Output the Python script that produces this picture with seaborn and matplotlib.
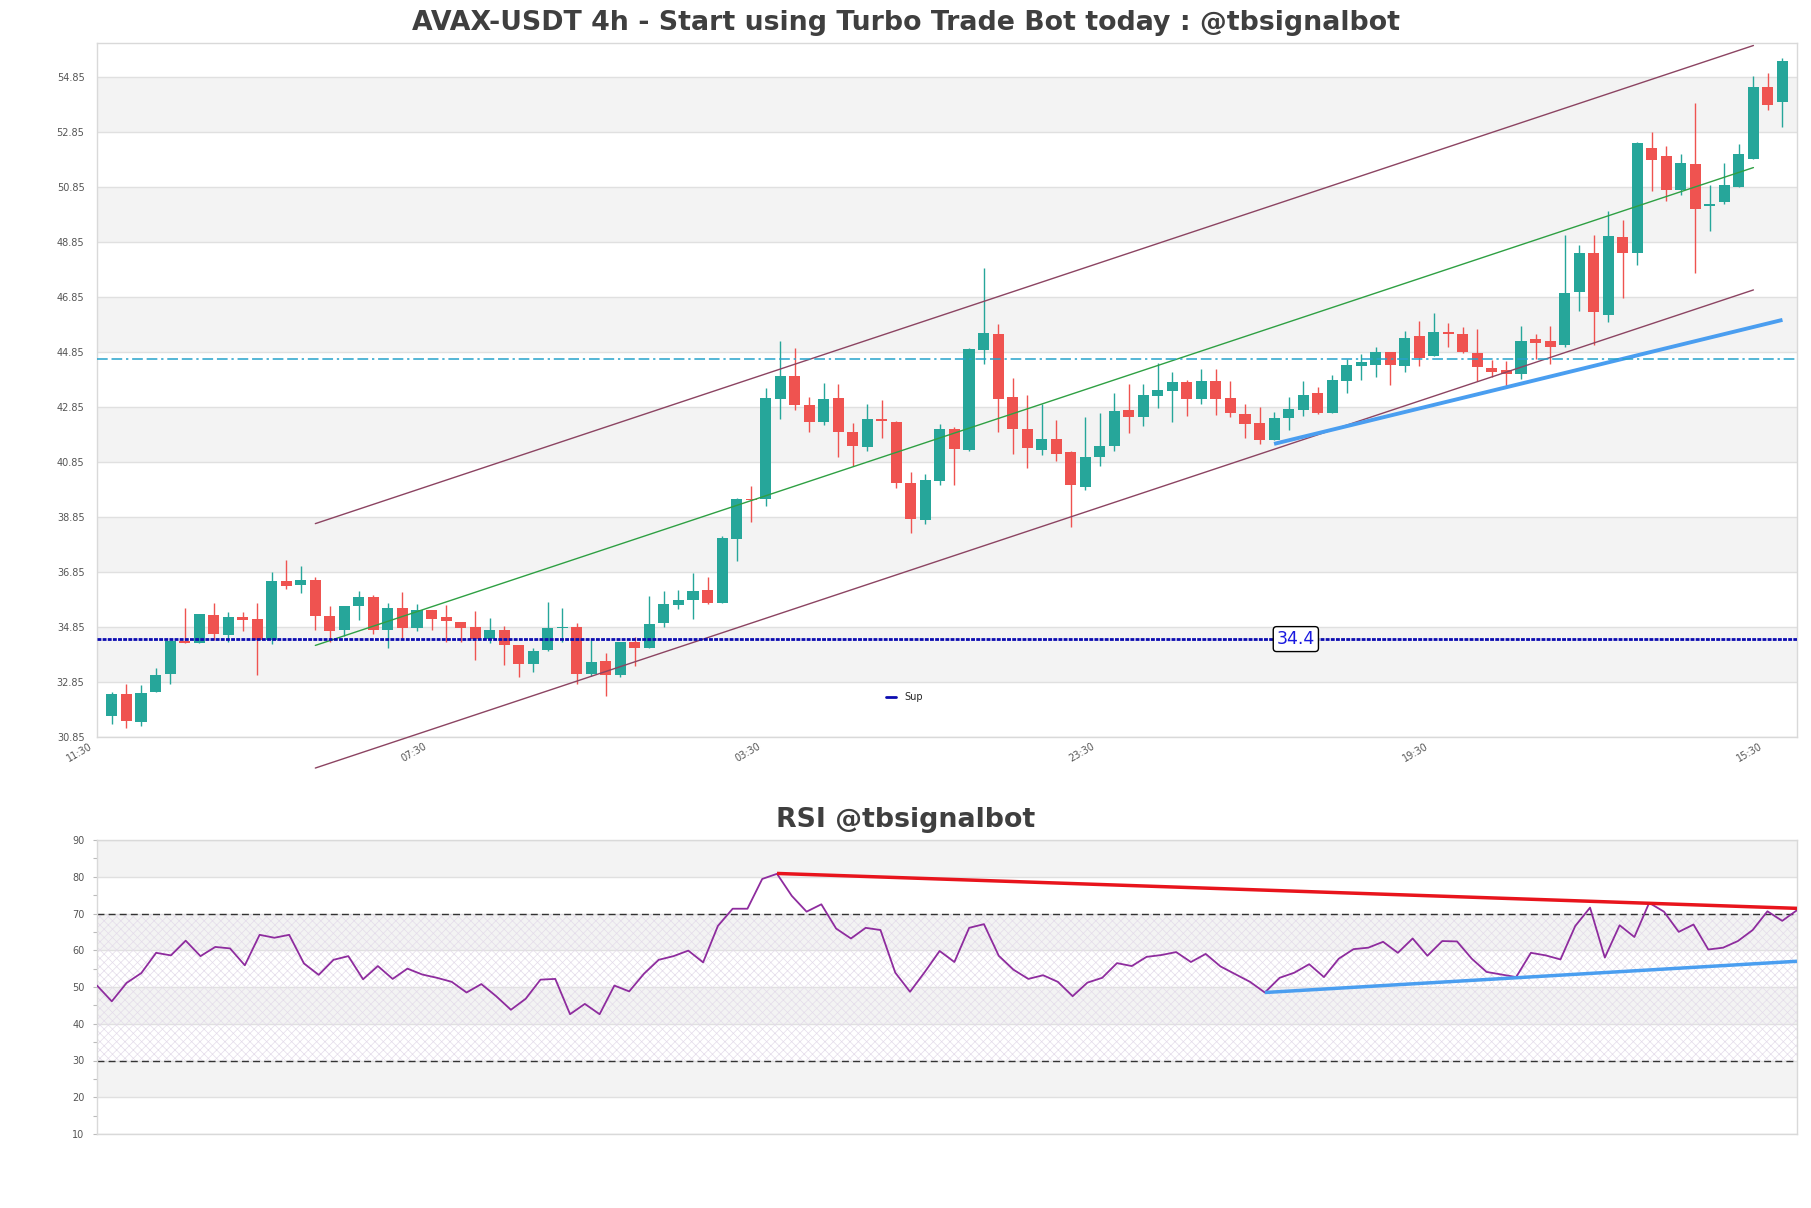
import numpy as np
import pandas as pd
import matplotlib
matplotlib.use("Agg")
import matplotlib.pyplot as plt
import matplotlib.transforms as mtransforms
import seaborn as sns

# ---------------- data ----------------
opens = [31.59, 32.41, 31.37, 32.46, 33.12, 34.34, 34.24, 35.29, 34.54, 35.21,
         35.14, 34.35, 36.52, 36.35, 36.56, 35.25, 34.72, 35.59, 35.94, 34.72,
         35.54, 34.79, 35.47, 35.21, 35.03, 34.85, 34.39, 34.74, 34.20, 33.50,
         33.99, 34.79, 34.84, 33.14, 33.61, 33.08, 34.30, 34.06, 34.97, 35.65,
         35.81, 36.20, 35.72, 38.05, 39.50, 39.48, 43.15, 43.98, 42.92, 42.28,
         43.18, 41.94, 41.37, 42.40, 42.30, 40.09, 38.73, 40.14, 42.05, 41.26,
         44.93, 45.50, 43.21, 42.05, 41.26, 41.69, 41.19, 39.95, 41.01, 41.41,
         42.74, 42.46, 43.25, 43.43, 43.76, 43.15, 43.80, 43.18, 42.60, 42.27,
         41.63, 42.43, 42.75, 43.36, 42.61, 43.77, 44.32, 44.38, 44.85, 44.34,
         45.43, 44.68, 45.58, 45.50, 44.81, 44.27, 44.17, 44.05, 45.32, 45.25,
         45.08, 47.04, 48.46, 46.20, 49.03, 48.46, 52.27, 51.98, 50.75, 51.69,
         50.15, 50.28, 50.85, 51.85, 54.49, 53.92]
highs = [32.47, 32.78, 32.74, 33.36, 34.34, 35.54, 35.32, 35.72, 35.40, 35.40,
         35.72, 36.85, 37.29, 37.07, 36.67, 35.61, 35.61, 36.16, 36.01, 35.72,
         36.12, 35.69, 35.47, 35.65, 35.03, 35.43, 35.18, 34.89, 34.20, 34.06,
         35.76, 35.54, 34.98, 34.38, 33.89, 34.30, 34.47, 35.98, 36.16, 36.20,
         36.81, 36.67, 38.15, 39.54, 39.98, 43.54, 45.25, 44.99, 43.21, 43.72,
         43.69, 42.27, 42.96, 43.10, 42.34, 40.49, 40.41, 42.21, 42.11, 44.99,
         47.90, 45.87, 43.90, 43.29, 42.96, 42.38, 41.23, 42.49, 42.63, 43.36,
         43.69, 43.69, 44.44, 44.12, 43.83, 44.23, 44.23, 43.80, 42.94, 42.85,
         42.67, 43.21, 43.80, 43.58, 44.01, 44.60, 44.78, 45.03, 44.85, 45.61,
         45.98, 46.27, 45.90, 45.76, 45.69, 44.56, 44.50, 45.77, 45.50, 45.77,
         49.10, 48.74, 49.10, 49.98, 49.65, 52.47, 52.85, 52.34, 52.05, 53.90,
         50.92, 51.72, 52.41, 54.89, 54.99, 55.54]
lows = [31.31, 31.16, 31.23, 32.46, 32.75, 34.24, 34.24, 34.35, 34.29, 34.68,
        33.08, 34.21, 36.24, 36.06, 34.72, 34.28, 34.50, 35.10, 34.57, 34.06,
        34.43, 34.68, 34.72, 34.28, 34.28, 33.63, 34.24, 33.47, 33.01, 33.19,
        33.95, 34.28, 32.77, 33.04, 32.32, 33.01, 33.41, 34.06, 34.85, 35.50,
        35.14, 35.69, 35.72, 37.25, 38.67, 39.25, 42.39, 42.75, 41.95, 42.17,
        41.04, 40.68, 41.23, 41.71, 39.88, 38.26, 38.57, 40.00, 40.00, 41.23,
        44.39, 41.95, 41.15, 40.64, 41.08, 40.86, 38.47, 39.84, 40.68, 41.23,
        41.90, 42.16, 42.81, 42.30, 42.52, 42.96, 42.56, 42.46, 41.73, 41.48,
        41.63, 41.99, 42.50, 42.60, 42.61, 43.34, 43.81, 43.95, 43.66, 44.10,
        44.32, 44.68, 45.04, 44.79, 43.77, 43.95, 43.59, 43.85, 44.60, 44.40,
        45.02, 46.35, 45.10, 45.95, 46.79, 47.99, 50.68, 50.32, 50.54, 47.71,
        49.23, 50.21, 50.85, 51.85, 53.63, 53.01]
closes = [32.41, 31.41, 32.45, 33.11, 34.34, 34.24, 35.32, 34.57, 35.21, 35.08,
          34.38, 36.52, 36.32, 36.56, 35.23, 34.68, 35.61, 35.94, 34.72, 35.54,
          34.81, 35.47, 35.14, 35.04, 34.81, 34.39, 34.74, 34.20, 33.50, 33.98,
          34.80, 34.84, 33.14, 33.58, 33.08, 34.30, 34.06, 34.95, 35.69, 35.83,
          36.16, 35.72, 38.09, 39.50, 39.47, 43.18, 43.98, 42.90, 42.28, 43.14,
          41.95, 41.41, 42.41, 42.32, 40.06, 38.77, 40.20, 42.05, 41.30, 44.96,
          45.54, 43.15, 42.03, 41.34, 41.69, 41.15, 39.99, 41.04, 41.44, 42.70,
          42.46, 43.29, 43.47, 43.76, 43.15, 43.80, 43.12, 42.61, 42.21, 41.63,
          42.45, 42.78, 43.29, 42.63, 43.83, 44.38, 44.49, 44.85, 44.38, 45.36,
          44.64, 45.58, 45.50, 44.83, 44.28, 44.13, 44.06, 45.25, 45.17, 45.02,
          46.98, 48.46, 46.28, 49.07, 48.43, 52.44, 51.84, 50.75, 51.72, 50.06,
          50.22, 50.92, 52.05, 54.49, 53.84, 55.43]

rsi = [50.4, 46.1, 51.1, 53.8, 59.3, 58.6, 62.6, 58.4, 60.9, 60.5,
       55.9, 64.2, 63.4, 64.2, 56.4, 53.3, 57.4, 58.4, 52.1, 55.7,
       52.2, 55.0, 53.4, 52.5, 51.4, 48.5, 50.8, 47.5, 43.8, 46.8,
       52.0, 52.2, 42.6, 45.4, 42.6, 50.4, 48.8, 53.6, 57.4, 58.4,
       59.9, 56.7, 66.6, 71.3, 71.3, 79.4, 80.8, 74.8, 70.5, 72.5,
       65.9, 63.2, 66.1, 65.5, 53.9, 48.7, 54.1, 59.8, 56.8, 66.1,
       67.1, 58.5, 54.7, 52.2, 53.2, 51.4, 47.5, 51.2, 52.5, 56.5,
       55.7, 58.2, 58.7, 59.5, 56.8, 59.0, 55.6, 53.5, 51.4, 48.5,
       52.5, 53.9, 56.2, 52.7, 57.7, 60.3, 60.7, 62.3, 59.3, 63.2,
       58.5, 62.5, 62.4, 57.7, 54.1, 53.4, 52.7, 59.3, 58.6, 57.5,
       66.6, 71.6, 58.0, 66.8, 63.6, 72.9, 70.5, 65.0, 67.0, 60.2,
       60.7, 62.5, 65.5, 70.6, 68.0, 70.9]

tick_labels = ["11:30", "07:30", "03:30", "23:30", "19:30", "15:30"]
tick_index = [0, 23, 46, 69, 92, 115]

# channel / trend lines (x index, price)
chan_x = [14, 113]
chan_upper = [38.60, 55.99]
chan_mid = [34.17, 51.55]
chan_lower = [29.71, 47.10]
support_x = [80, 115]
support_y = [41.50, 46.01]
resistance_level = 44.60
sup_level = 34.4

rsi_res_x = [46, 115]
rsi_res_y = [80.9, 71.4]
rsi_sup_x = [79, 115]
rsi_sup_y = [48.5, 57.0]

title_main = "AVAX-USDT 4h - Start using Turbo Trade Bot today : @tbsignalbot"
title_rsi = "RSI @tbsignalbot"

# ---------------- style ----------------
sns.set_theme(style="white")
plt.rcParams["font.family"] = ["DejaVu Sans"]
plt.rcParams["hatch.linewidth"] = 0.5

W, H = 1811, 1208
fig = plt.figure(figsize=(W / 100, H / 100), dpi=100)
fig.patch.set_facecolor("white")

ax1 = fig.add_axes([97 / W, 1 - 736.7 / H, 1700 / W, 693.4 / H])
ax2 = fig.add_axes([97 / W, 1 - 1134 / H, 1700 / W, 294 / H])

GREEN = "#26a69a"
RED = "#ef5350"
BAND = "#f3f3f3"
GRID = "#e0e0e0"
SPINE = "#d9d9d9"
TXT = "#555555"

df = pd.DataFrame({"o": opens, "h": highs, "l": lows, "c": closes})
df["i"] = np.arange(len(df))
df["up"] = df["c"] >= df["o"]
df["col"] = np.where(df["up"], GREEN, RED)
df["bot"] = df[["o", "c"]].min(axis=1)
df["hgt"] = (df["c"] - df["o"]).abs().clip(lower=0.04)

# ---- main axes ----
ymin, ymax = 30.85, 56.07
yt = np.arange(30.85, 55.0, 2.0)
for k, y0 in enumerate(yt[:-1]):
    if k % 2 == 1:
        ax1.axhspan(y0, y0 + 2, color=BAND, zorder=0, lw=0)
for y0 in yt:
    ax1.axhline(y0, color=GRID, lw=1.0, zorder=0.5)

ax1.vlines(df["i"], df["l"], df["h"], colors=df["col"], lw=1.0, zorder=2)
ax1.bar(df["i"], df["hgt"], bottom=df["bot"], width=0.76, color=df["col"],
        linewidth=0, zorder=3)

ax1.plot(chan_x, chan_upper, color="#8c4462", lw=1.0, zorder=4, clip_on=False)
ax1.plot(chan_x, chan_lower, color="#8c4462", lw=1.0, zorder=4, clip_on=False)
ax1.plot(chan_x, chan_mid, color="#2ea043", lw=1.0, zorder=4)
ax1.plot(support_x, support_y, color="#4a9ef0", lw=2.8, zorder=4,
         solid_capstyle="butt")
ax1.axhline(resistance_level, color="#26a3cc", lw=1.1,
            linestyle=(0, (7, 2.5, 7, 2.5, 1.5, 2.5)), zorder=4)
ax1.axhline(sup_level, color="#0c0cb0", lw=2.0, linestyle=(0, (1.4, 0.45)),
            zorder=4, label="Sup")
ax1.text(81.5, sup_level, f"{sup_level}", color="#1a1ae0", fontsize=12.5,
         ha="center", va="center", zorder=6,
         bbox=dict(boxstyle="round,pad=0.2", fc="white", ec="black", lw=1.0))

leg = ax1.legend(loc="center", bbox_to_anchor=(0.475, 0.057), frameon=False,
                 fontsize=7, handlelength=1.0, handletextpad=0.8)
for h in leg.get_lines():
    h.set_linestyle("-")
    h.set_linewidth(2.0)

ax1.set_xlim(-1.03, 116.0)
ax1.set_ylim(ymin, ymax)
ax1.set_yticks(yt)
ax1.set_yticklabels([f"{v:.2f}" for v in yt])
ax1.set_xticks(tick_index)
ax1.set_xticklabels(tick_labels, rotation=30, ha="right")
ax1.tick_params(axis="both", length=0, labelsize=7, colors=TXT)
ax1.tick_params(axis="y", pad=9)
ax1.tick_params(axis="x", pad=3)
offset = mtransforms.ScaledTranslation(-18 / 100, 0, fig.dpi_scale_trans)
for lab in ax1.get_xticklabels():
    lab.set_transform(lab.get_transform() + offset)
for s in ax1.spines.values():
    s.set_color(SPINE)
    s.set_linewidth(1.0)
ax1.set_xlabel("")
ax1.set_ylabel("")

# ---- RSI axes ----
for y0 in [20, 40, 60, 80]:
    ax2.axhspan(y0, y0 + 10, color=BAND, zorder=0, lw=0)
for y0 in range(10, 91, 10):
    ax2.axhline(y0, color=GRID, lw=1.0, zorder=0.5)
ax2.fill_between([0, 115], 30, 70, facecolor="none", edgecolor="#e4dcea",
                 hatch="xxxx", lw=0, zorder=0.6)
ax2.axhline(70, color="#333333", lw=1.0, linestyle=(0, (5, 3)), zorder=1)
ax2.axhline(30, color="#333333", lw=1.0, linestyle=(0, (5, 3)), zorder=1)

rdf = pd.DataFrame({"i": np.arange(len(rsi)), "rsi": rsi})
sns.lineplot(data=rdf, x="i", y="rsi", ax=ax2, color="#8e2c9e", lw=1.3, zorder=3)
ax2.plot(rsi_res_x, rsi_res_y, color="#e8141c", lw=2.5, zorder=4,
         solid_capstyle="butt")
ax2.plot(rsi_sup_x, rsi_sup_y, color="#4a9ef0", lw=2.5, zorder=4,
         solid_capstyle="butt")

ax2.set_xlim(0, 115)
ax2.set_ylim(10, 90)
ax2.set_yticks(range(10, 91, 10))
ax2.set_yticks(range(15, 90, 10), minor=True)
ax2.set_xticks([])
ax2.tick_params(axis="y", which="both", length=3, width=0.8, color="#bbbbbb",
                labelsize=7, labelcolor=TXT, pad=6, left=True)
for s in ax2.spines.values():
    s.set_color(SPINE)
    s.set_linewidth(1.0)
ax2.set_xlabel("")
ax2.set_ylabel("")

fig.text(0.5, 1 - 23 / H, title_main, ha="center", va="center",
         fontsize=19.3, fontweight="bold", color="#3f3f3f")
fig.text(0.5, 1 - 820 / H, title_rsi, ha="center", va="center",
         fontsize=19.3, fontweight="bold", color="#3f3f3f")

fig.savefig("out.png", dpi=100, facecolor="white")
